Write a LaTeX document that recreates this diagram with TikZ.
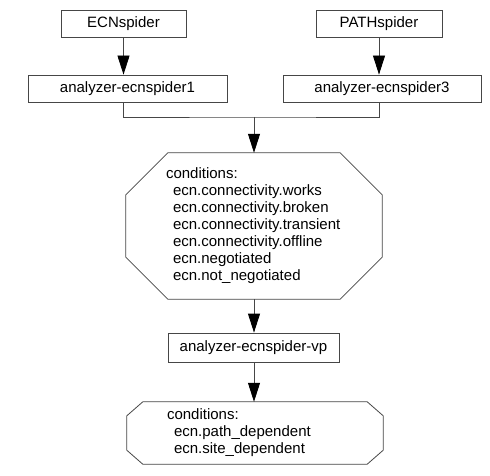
\documentclass[tikz,border=0pt]{standalone}
\usepackage{fontspec}
\setmainfont{Liberation Sans}
\usetikzlibrary{arrows.meta}
\definecolor{linec}{RGB}{70,70,70}
\tikzset{
  box/.style={draw=linec, line width=0.8pt, inner sep=0pt, font=\fontsize{15}{17}\selectfont},
  oct/.style={draw=none, inner xsep=40pt, inner ysep=0pt, text width=176pt, align=left,
              font=\fontsize{15}{17}\selectfont},
  octline/.style={draw=linec, line width=0.8pt},
  conn/.style={draw=linec, line width=0.8pt},
  arr/.style={conn, -{Triangle[length=19pt,width=12pt,color=black]}},
}
\newcommand\octpath[3]{%
  \path[octline] ([xshift=#2]#1.north west) -- ([xshift=-#2]#1.north east)
    -- ([yshift=-#3]#1.north east) -- ([yshift=#3]#1.south east)
    -- ([xshift=-#2]#1.south east) -- ([xshift=#2]#1.south west)
    -- ([yshift=#3]#1.south west) -- ([yshift=-#3]#1.north west) -- cycle;}
\newcommand\ind{\hspace*{7pt}}
\begin{document}
\begin{tikzpicture}[x=1pt,y=-1pt]
\useasboundingbox[fill=white] (0,0) rectangle (490,476);
\node[box, minimum width=125pt, minimum height=27pt] (ecn) at (123.5,23.5) {ECNspider};
\node[box, minimum width=126pt, minimum height=27pt] (path) at (379,23.5) {PATHspider};
\node[box, minimum width=199pt, minimum height=27pt] (a1) at (127.5,88.5) {analyzer-ecnspider1};
\node[box, minimum width=198pt, minimum height=27pt] (a3) at (382,88.5) {analyzer-ecnspider3};
\node[oct, minimum height=146pt] (c1) at (254,226) {conditions:\\
\ind ecn.connectivity.works\\
\ind ecn.connectivity.broken\\
\ind ecn.connectivity.transient\\
\ind ecn.connectivity.offline\\
\ind ecn.negotiated\\
\ind ecn.not\_negotiated};
\octpath{c1}{42pt}{42pt}
\node[box, minimum width=171pt, minimum height=29pt] (vp) at (253.5,347.5) {analyzer-ecnspider-vp};
\node[oct, minimum height=62pt] (c2) at (255,433) {conditions:\\
\ind ecn.path\_dependent\\
\ind ecn.site\_dependent};
\octpath{c2}{16pt}{14pt}
\coordinate (j) at (254,117);
\draw[arr] (ecn.south) -- (ecn.south |- a1.north);
\draw[arr] (path.south) -- (path.south |- a3.north);
\draw[conn] (ecn.south |- a1.south) |- (j) -| (path.south |- a3.south);
\draw[arr] (j) -- (j |- c1.north);
\draw[arr] (c1.south -| j) -- (j |- vp.north);
\draw[arr] (vp.south -| j) -- (j |- c2.north);
\end{tikzpicture}
\end{document}
